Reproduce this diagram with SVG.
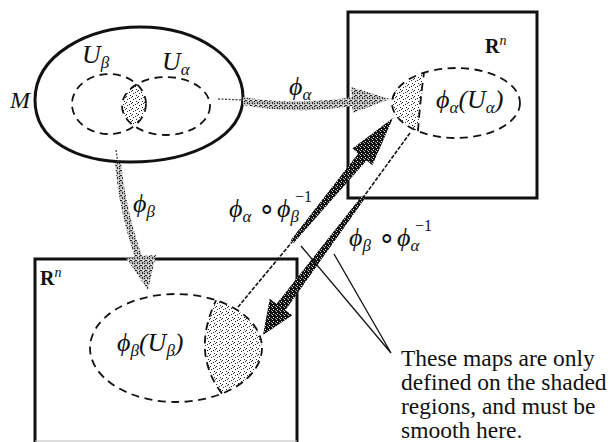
<svg xmlns="http://www.w3.org/2000/svg" width="610" height="442" viewBox="0 0 610 442">
<style>
.bd{fill:none;stroke:#111;stroke-width:3}
.dash{fill:none;stroke:#111;stroke-width:1.8;stroke-dasharray:8 5.5}
.dot{fill:none;stroke:#444;stroke-width:1.3;stroke-dasharray:2 1.5}
.thin{fill:none;stroke:#111;stroke-width:1.6;stroke-dasharray:4 1.5}
.m{font-family:"Liberation Serif",serif;font-style:italic;font-size:26px;fill:#111}
.s{font-size:17px}
.o{font-family:"Liberation Serif",serif;font-size:28px;fill:#111}
.sup{font-family:"Liberation Serif",serif;font-size:16px;fill:#111}
.t{font-family:"Liberation Serif",serif;font-size:23.5px;fill:#111}
.R{font-family:"Liberation Serif",serif;font-weight:bold;font-size:20px;fill:#111}
.n{font-weight:normal;font-style:italic;font-size:14px}
.call{stroke:#111;stroke-width:1.3;fill:none}
</style>
<defs>
<pattern id="lt" width="6" height="6" patternUnits="userSpaceOnUse">
<rect width="6" height="6" fill="#fff"/>
<rect x="0" y="0" width="1" height="1" fill="#222"/>
<rect x="3" y="2" width="1" height="1" fill="#222"/>
<rect x="1" y="3" width="1" height="1" fill="#333"/>
<rect x="4" y="5" width="1" height="1" fill="#222"/>
<rect x="5" y="1" width="1" height="1" fill="#444"/>
</pattern>
<pattern id="md" width="5" height="5" patternUnits="userSpaceOnUse">
<rect width="5" height="5" fill="#bbb"/>
<rect x="0" y="0" width="2" height="1" fill="#222"/>
<rect x="2" y="2" width="1" height="2" fill="#333"/>
<rect x="4" y="1" width="1" height="1" fill="#111"/>
<rect x="1" y="4" width="1" height="1" fill="#fff"/>
<rect x="3" y="0" width="1" height="1" fill="#fff"/>
<rect x="4" y="3" width="1" height="1" fill="#222"/>
</pattern>
<pattern id="dk" width="4" height="4" patternUnits="userSpaceOnUse">
<rect width="4" height="4" fill="#111"/>
<rect x="1" y="1" width="1" height="1" fill="#eee"/>
<rect x="3" y="2" width="1" height="1" fill="#999"/>
<rect x="0" y="3" width="1" height="1" fill="#ccc"/>
</pattern>
<clipPath id="cb"><ellipse cx="109" cy="104" rx="37" ry="30"/></clipPath>
</defs>

<g id="manifold">
<path class="bd" d="M35,100 C35,55 88,27 140,27 C200,27 243,60 243,97 C243,135 195,162 130,162 C75,162 35,140 35,100 Z"/>
<text class="m" x="10" y="108" style="font-size:24px">M</text>
</g>

<g id="U-beta">
<ellipse cx="166" cy="106" rx="44" ry="29" fill="url(#lt)" clip-path="url(#cb)"/>
<ellipse class="dash" cx="109" cy="104" rx="37" ry="30"/>
<text class="m" x="82" y="63">U<tspan class="s" dy="5">β</tspan></text>
</g>

<g id="U-alpha">
<ellipse class="dash" cx="166" cy="106" rx="44" ry="29"/>
<text class="m" x="162" y="70">U<tspan class="s" dy="5">α</tspan></text>
</g>

<g id="Rn-alpha">
<rect class="bd" x="348" y="12" width="189" height="186"/>
<text class="R" x="485" y="53">R<tspan class="n" dy="-8">n</tspan></text>
<path d="M424,72.7 A64,35 0 0,0 418,131.2 Q420,102 424,72.7 Z" fill="url(#lt)"/>
<ellipse class="dash" cx="456" cy="103" rx="64" ry="35"/>
<path class="dash" d="M418,131.2 Q420,102 424,72.7"/>
<text class="m" x="436" y="108">ϕ<tspan class="s" dy="5">α</tspan><tspan dy="-5">(U</tspan><tspan class="s" dy="5">α</tspan><tspan dy="-5">)</tspan></text>
</g>

<g id="Rn-beta">
<path class="bd" d="M35,446 V259 H297 V446"/>
<line x1="35" y1="441" x2="297" y2="441" stroke="#bbb" stroke-width="1"/>
<text class="R" x="40" y="285">R<tspan class="n" dy="-8">n</tspan></text>
<path d="M216,300.4 A86,54 0 0,1 222,393.6 Q191,353 216,300.4 Z" fill="url(#lt)"/>
<ellipse class="dash" cx="176" cy="348" rx="86" ry="54"/>
<path class="dash" d="M222,393.6 Q191,353 216,300.4"/>
<text class="m" x="117" y="351">ϕ<tspan class="s" dy="5">β</tspan><tspan dy="-5">(U</tspan><tspan class="s" dy="5">β</tspan><tspan dy="-5">)</tspan></text>
</g>

<g id="connectors">
<path class="dot" d="M218,99 L244,100"/>
<path d="M243,97 C265,101 300,105 352,97 L351,87 L390,99 L353,113 L352,106 C300,114 265,109 243,105 Z" fill="url(#md)"/>
<text class="m" x="289" y="95">ϕ<tspan class="s" dy="5">α</tspan></text>

<path class="dot" d="M116,150 L118,163"/>
<path d="M115,163 L121,163 C125,200 133,230 142,256 L156,255 L148,290 L126,258 L135,258 C126,230 118,200 115,163 Z" fill="url(#md)"/>
<text class="m" x="133" y="212">ϕ<tspan class="s" dy="5">β</tspan></text>

<path class="thin" d="M238,307 L292,242"/>
<path d="M290.7,240.3 L358.2,153.4 L352.4,148.6 L393,118 L372.4,165.2 L366.6,160.4 L293.7,242.9 Z" fill="url(#dk)"/>
<text class="m" x="229" y="217">ϕ<tspan class="s" dy="5">α</tspan></text>
<text class="o" x="258" y="217">∘</text>
<text class="m" x="277" y="217">ϕ<tspan class="s" dy="5">β</tspan></text>
<text class="sup" x="295" y="202">−1</text>

<path class="thin" d="M410,133 L363,197.7"/>
<path d="M361.3,196.5 L276.6,303.8 L269.7,298.8 L263,335 L292.3,315.2 L285.4,310.2 L364.5,198.9 Z" fill="url(#dk)"/>
<text class="m" x="349" y="246">ϕ<tspan class="s" dy="5">β</tspan></text>
<text class="o" x="378" y="246">∘</text>
<text class="m" x="397" y="246">ϕ<tspan class="s" dy="5">α</tspan></text>
<text class="sup" x="415" y="231">−1</text>

<path class="call" d="M301,246 L391,353 L334,254"/>
</g>

<g id="note">
<text class="t" x="401" y="366">These maps are only</text>
<text class="t" x="401" y="390">defined on the shaded</text>
<text class="t" x="401" y="414">regions, and must be</text>
<text class="t" x="401" y="438">smooth here.</text>
</g>
</svg>
